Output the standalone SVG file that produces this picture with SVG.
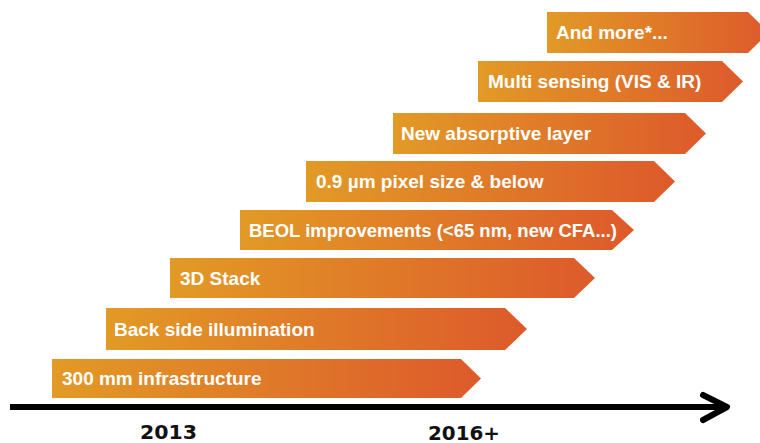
<svg xmlns="http://www.w3.org/2000/svg" width="760" height="443" viewBox="0 0 760 443">
<defs>
<linearGradient id="g" x1="0" y1="0" x2="1" y2="0">
<stop offset="0" stop-color="#E29A26"/>
<stop offset="1" stop-color="#DD5A2B"/>
</linearGradient>
</defs>
<style>
.bar{fill:url(#g)}
.lbl{font-family:"Liberation Sans",Arial,sans-serif;font-weight:bold;font-size:19px;fill:#FFFFFF}
.yr{font-family:"DejaVu Sans",Verdana,sans-serif;font-weight:bold;font-size:19px;fill:#111111}
.axis{stroke:#000;fill:none;stroke-width:6}
</style>
<rect width="760" height="443" fill="#FFFFFF"/>
<g id="n8"><polygon class="bar" points="52,359 461,359 481,378.5 461,398 52,398"/><text class="lbl" x="62" y="385">300 mm infrastructure</text></g>
<g id="n7"><polygon class="bar" points="106,308 505,308 527,329 505,350 106,350"/><text class="lbl" x="114" y="336">Back side illumination</text></g>
<g id="n6"><polygon class="bar" points="170,258 574,258 595,278 574,298 170,298"/><text class="lbl" x="180" y="285">3D Stack</text></g>
<g id="n5"><polygon class="bar" points="240,210 612,210 634,230 612,250 240,250"/><text class="lbl" x="249" y="237" textLength="368" lengthAdjust="spacingAndGlyphs">BEOL improvements (&lt;65 nm, new CFA...)</text></g>
<g id="n4"><polygon class="bar" points="306,161 654,161 675,181.5 654,202 306,202"/><text class="lbl" x="316" y="188">0.9 µm pixel size &amp; below</text></g>
<g id="n3"><polygon class="bar" points="393,113 685,113 706,133.5 685,154 393,154"/><text class="lbl" x="401" y="140">New absorptive layer</text></g>
<g id="n2"><polygon class="bar" points="478,61 722,61 743,81.5 722,102 478,102"/><text class="lbl" x="488" y="88">Multi sensing (VIS &amp; IR)</text></g>
<g id="n1"><polygon class="bar" points="547,12 748,12 769,32.5 748,53 547,53"/><text class="lbl" x="556" y="39">And more*...</text></g>
<g id="connectors">
<line class="axis" x1="10" y1="407" x2="724" y2="407"/>
<polyline class="axis" stroke-width="7" stroke-linecap="round" stroke-linejoin="round" points="703,395 727,407 703,420"/>
</g>
<text class="yr" x="140" y="439" textLength="57" lengthAdjust="spacingAndGlyphs">2013</text>
<text class="yr" x="428" y="440" textLength="72" lengthAdjust="spacingAndGlyphs">2016+</text>
</svg>
